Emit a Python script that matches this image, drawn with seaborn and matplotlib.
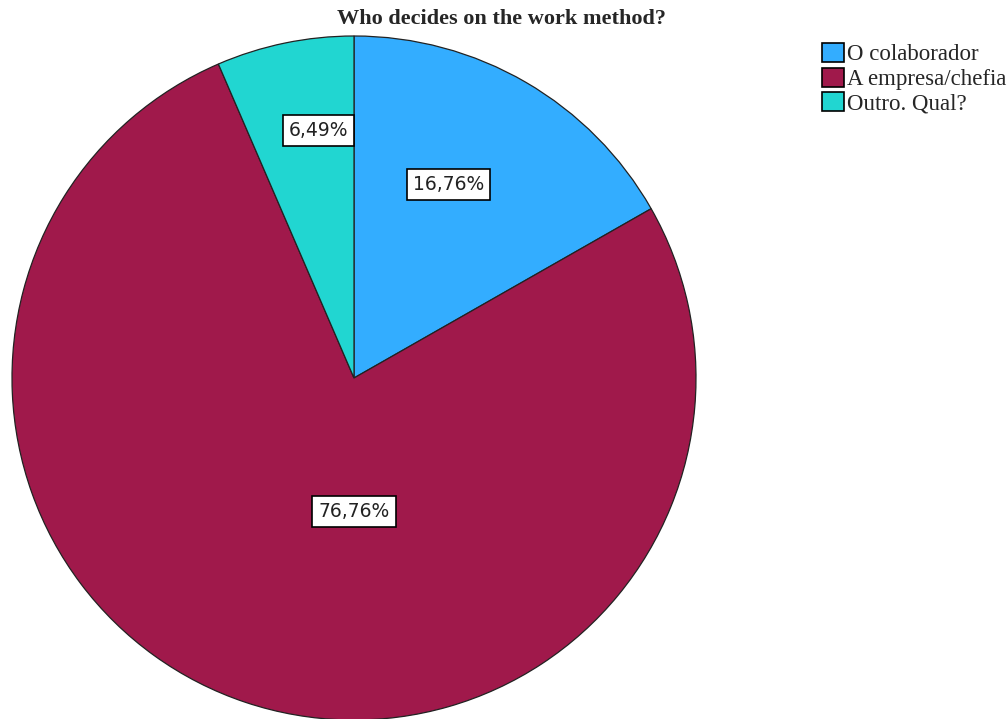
import matplotlib.pyplot as plt
import seaborn as sns
import numpy as np

### Dados
categorias = ["O colaborador", "A empresa/chefia", "Outro. Qual?"]
percentuais = [16.76, 76.76, 6.49]
rotulos = ["16,76%", "76,76%", "6,49%"]
cores = ["#33adff", "#a0194b", "#21d6d1"]

### Posição dos rótulos (raio, ângulo em graus) - estilo SPSS
pos_rotulos = [(0.63, 64.0), (0.39, -90.0), (0.73, 98.2)]

sns.set_theme(style = "white")
plt.rcParams["font.family"] = ["Liberation Serif", "DejaVu Serif"]

fig = plt.figure(figsize = (10.07, 7.19), dpi = 100)
ax = fig.add_axes([12 / 1007, -1 / 719, 684 / 1007, 684 / 719])

paleta = sns.color_palette(cores)
fatias, _ = ax.pie(percentuais, colors = paleta, startangle = 90, counterclock = False,
                   radius = 1.0, wedgeprops = {"edgecolor": "#222222", "linewidth": 0.9})
ax.set_xlim(-1, 1)
ax.set_ylim(-1, 1)
ax.set_aspect("equal")
ax.axis("off")

for rot, (r, ang) in zip(rotulos, pos_rotulos):
	t = np.deg2rad(ang)
	ax.text(r * np.cos(t), r * np.sin(t), rot, ha = "center", va = "center",
	        family = "DejaVu Sans", size = 13.5, color = "#222222",
	        bbox = dict(boxstyle = "square,pad=0.32", facecolor = "white", edgecolor = "black", linewidth = 1.2))

fig.suptitle("Who decides on the work method?", x = 0.4985, y = 1 - 9 / 719, va = "top",
             weight = "bold", size = 16)

leg = fig.legend(fatias, categorias, loc = "upper left", bbox_to_anchor = (822 / 1007, 1 - 43 / 719),
                 frameon = False, fontsize = 16.5, handlelength = 0.95, handleheight = 0.9,
                 handletextpad = 0.15, labelspacing = 0.1, borderaxespad = 0, borderpad = 0)
for h in leg.legend_handles:
	h.set_edgecolor("black")
	h.set_linewidth(1.2)

plt.savefig("out.png", dpi = 100)
